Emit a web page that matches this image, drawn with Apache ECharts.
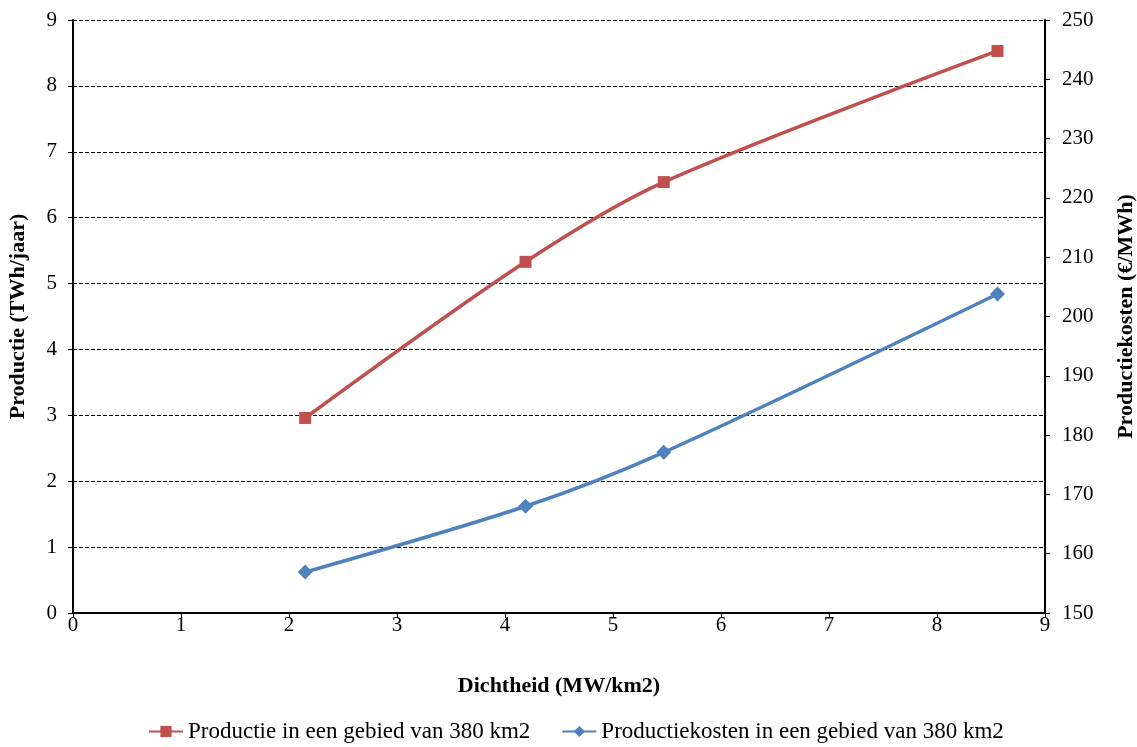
<!DOCTYPE html>
<html>
<head>
<meta charset="utf-8">
<script src="https://cdn.jsdelivr.net/npm/echarts@6/dist/echarts.min.js"></script>
<style>
  html, body { margin: 0; padding: 0; background: #fff; }
  #chart { width: 1137px; height: 747px; }
</style>
</head>
<body>
<div id="chart"></div>
<script>
// dichtheid (MW/km2)
const dichtheid = [2.15, 4.19, 5.47, 8.56];
// productie (TWh/jaar), linker as
const productie = [2.96, 5.33, 6.54, 8.53];
// productiekosten (€/MWh), rechter as
const kosten = [156.9, 168.0, 177.1, 203.8];

const serif = 'Liberation Serif';

const chart = echarts.init(document.getElementById('chart'));

const option = {
  animation: false,
  textStyle: { fontFamily: serif, color: '#000' },
  grid: { left: 73, right: 92, top: 20, bottom: 134, outerBoundsMode: 'none' },
  legend: {
    bottom: 4,
    left: 148,
    padding: 0,
    itemGap: 31,
    itemWidth: 34,
    itemHeight: 14,
    textStyle: { fontFamily: serif, fontSize: 23, color: '#000' },
    data: ['Productie in een gebied van 380 km2', 'Productiekosten in een gebied van 380 km2']
  },
  xAxis: {
    type: 'value',
    min: 0,
    max: 9,
    interval: 1,
    name: 'Dichtheid (MW/km2)',
    nameLocation: 'middle',
    nameGap: 62,
    nameTextStyle: { fontFamily: serif, fontSize: 22, fontWeight: 'bold', color: '#000' },
    axisLine: { lineStyle: { color: '#000', width: 2 } },
    axisTick: { show: true, length: 5, lineStyle: { color: '#000' } },
    axisLabel: { fontFamily: serif, fontSize: 21, color: '#000', margin: 2 },
    splitLine: { show: false }
  },
  yAxis: [
    {
      type: 'value',
      min: 0,
      max: 9,
      interval: 1,
      name: 'Productie (TWh/jaar)',
      nameLocation: 'middle',
      nameGap: 44,
      nameTextStyle: { fontFamily: serif, fontSize: 22, fontWeight: 'bold', color: '#000' },
      axisLine: { show: true, lineStyle: { color: '#000', width: 2 } },
      axisTick: { show: true, length: 5, lineStyle: { color: '#000' } },
      axisLabel: { fontFamily: serif, fontSize: 21, color: '#000', margin: 16 },
      splitLine: { show: true, lineStyle: { color: '#000', type: [4, 2], width: 1 } }
    },
    {
      type: 'value',
      min: 150,
      max: 250,
      interval: 10,
      position: 'right',
      name: 'Productiekosten (€/MWh)',
      nameLocation: 'middle',
      nameGap: 70,
      nameRotate: 90,
      nameTextStyle: { fontFamily: serif, fontSize: 22, fontWeight: 'bold', color: '#000' },
      axisLine: { show: true, lineStyle: { color: '#000', width: 2 } },
      axisTick: { show: true, length: 5, lineStyle: { color: '#000' } },
      axisLabel: { fontFamily: serif, fontSize: 21, color: '#000', margin: 17 },
      splitLine: { show: false }
    }
  ],
  series: [
    {
      name: 'Productie in een gebied van 380 km2',
      type: 'line',
      yAxisIndex: 0,
      smooth: 0.3,
      data: dichtheid.map((x, i) => [x, productie[i]]),
      symbol: 'rect',
      symbolSize: 12,
      color: '#C0504D',
      lineStyle: { width: 3.5, color: '#C0504D' },
      itemStyle: { color: '#C0504D' }
    },
    {
      name: 'Productiekosten in een gebied van 380 km2',
      type: 'line',
      yAxisIndex: 1,
      smooth: 0.3,
      data: dichtheid.map((x, i) => [x, kosten[i]]),
      symbol: 'diamond',
      symbolSize: 15,
      color: '#4F81BD',
      lineStyle: { width: 3.5, color: '#4F81BD' },
      itemStyle: { color: '#4F81BD' }
    }
  ]
};

chart.setOption(option);
</script>
</body>
</html>
